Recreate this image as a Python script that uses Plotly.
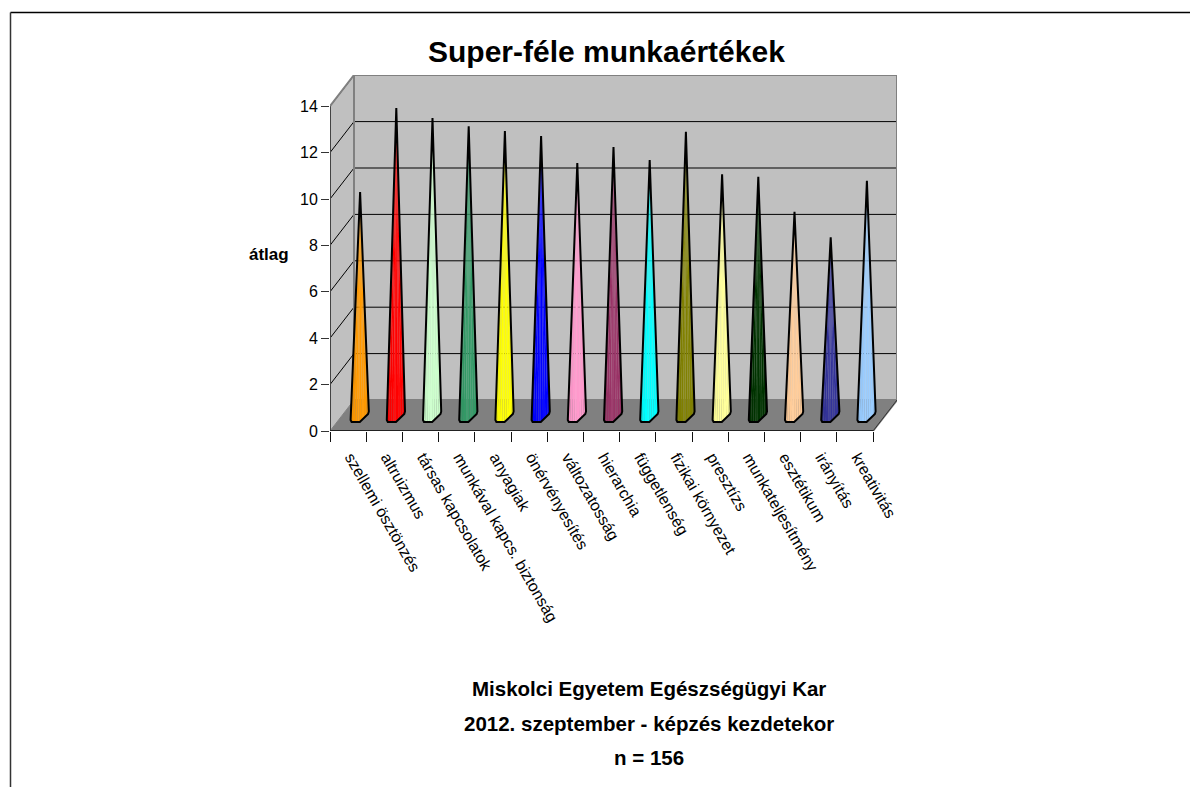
import numpy as np
import plotly.graph_objects as go

categories = ["szellemi ösztönzés", "altruizmus", "társas kapcsolatok", "munkával kapcs. biztonság",
              "anyagiak", "önérvényesítés", "változatosság", "hierarchia", "függetlenség",
              "fizikai környezet", "presztízs", "munkateljesítmény", "esztétikum", "irányítás", "kreativitás"]
values = [9.63, 13.25, 12.82, 12.47, 12.26, 12.05, 10.88, 11.57, 11.01, 12.23, 10.4, 10.29, 8.78, 7.68, 10.12]
colors = ["#FF9900", "#FF0000", "#CCFFCC", "#339966", "#FFFF00", "#0000FF", "#FF99CC", "#993366",
          "#00FFFF", "#808000", "#FFFF99", "#003300", "#FFCC99", "#333399", "#99CCFF"]
y_ticks = [0, 2, 4, 6, 8, 10, 12, 14]
title_text = "Super-féle munkaértékek"
y_title = "átlag"
footer_lines = ["Miskolci Egyetem Egészségügyi Kar", "2012. szeptember - képzés kezdetekor", "n = 156"]

# page geometry (the page has an 8px body margin)
OX, OY = 8, 8
W, H = 1190, 779
L, R, T, B = 330, 897, 75, 431
PX_X = (873 - 330) / 15
PX_Y = 23.2
DX = (R - 873) / PX_X          # depth of the floor, in axis units
DY = (B - 400) / PX_Y
X_MAX = (R - L) / PX_X
Y_MAX = (B - T) / PX_Y
LABEL_SHIFT = 3 / PX_X
FONT = "Liberation Sans, Arial, sans-serif"

def px(x):
    return (x - L) / (R - L)

def py(y):
    return (B - y) / (B - T)

def shade(hex_color, k):
    rgb = np.array([int(hex_color[i:i + 2], 16) for i in (1, 3, 5)], float)
    out = rgb * (1 + k) if k < 0 else rgb + (255 - rgb) * k
    return "rgb(%d,%d,%d)" % tuple(np.clip(out, 0, 255))

fig = go.Figure()

def poly(xs, ys, fill, line=None, width=1):
    fig.add_trace(go.Scatter(x=xs, y=ys, mode="lines", fill="toself", fillcolor=fill,
                             line=dict(color=line or "rgba(0,0,0,0)", width=width if line else 0),
                             hoverinfo="skip", showlegend=False))

def seg(xs, ys, color, width):
    fig.add_trace(go.Scatter(x=xs, y=ys, mode="lines", line=dict(color=color, width=width),
                             hoverinfo="skip", showlegend=False))

top_v = max(y_ticks)
# walls and floor
poly([DX, 15 + DX, 15 + DX, DX, DX], [DY, DY, Y_MAX, Y_MAX, DY], "#C0C0C0")
poly([0, DX, DX, 0, 0], [0, DY, Y_MAX, top_v, 0], "#C0C0C0")
poly([0, 15, 15 + DX, DX, 0], [0, 0, DY, DY, 0], "#808080")
# gridlines
for v in y_ticks[1:]:
    seg([0, DX, 15 + DX], [v, v + DY, v + DY], "#000000", 1)
# wall outlines
seg([0, DX, 15 + DX, 15 + DX, 15], [top_v, Y_MAX, Y_MAX, DY, 0], "#808080", 2)
seg([DX, DX, 15 + DX], [Y_MAX, DY, DY], "#808080", 2)
seg([DX, 0], [DY, 0], "#808080", 1)
seg([15 + DX, 15], [DY, 0], "#333333", 1)
# cones
profile_x = np.array([-9.5, -8.5, -0.3, 8.0, 8.7])
profile_y = np.array([-4.5, -6.5, -6.5, 1.5, 4.0])
strip_k = [-0.05, -0.02, 0.0, 0.06, 0.0, 0.04, 0.0, -0.02]
edges = np.linspace(profile_x[0], profile_x[-1], len(strip_k) + 1)
for i, (v, c) in enumerate(zip(values, colors)):
    xc = i + 0.5 + DX / 2
    yb = DY / 2
    apex = yb + v
    for j, k in enumerate(strip_k):
        a, b = edges[j], edges[j + 1]
        inner = profile_x[(profile_x > a) & (profile_x < b)]
        xs_b = np.concatenate(([a], inner, [b]))
        ys_b = np.interp(xs_b, profile_x, profile_y)
        poly(np.concatenate(([xc], xc + xs_b / PX_X, [xc])),
             np.concatenate(([apex], yb + ys_b / PX_Y, [apex])), shade(c, k))
    seg(np.concatenate(([xc], xc + profile_x / PX_X, [xc])),
        np.concatenate(([apex], yb + profile_y / PX_Y, [apex])), "#000000", 2)
# front axis lines
seg([0, 0], [0, top_v], "#444444", 2)
seg([0, 15], [0, 0], "#222222", 2)

fig.update_layout(
    width=W, height=H, autosize=False, showlegend=False,
    margin=dict(l=L - OX, r=W - (R - OX), t=T - OY, b=H - (B - OY), pad=0),
    paper_bgcolor="#FFFFFF", plot_bgcolor="rgba(0,0,0,0)",
    font=dict(family=FONT, color="#000000", size=16),
    xaxis=dict(range=[0, X_MAX], tickmode="array", tickvals=list(range(16)), ticktext=[""] * 16,
               ticks="outside", ticklen=10, tickwidth=1, tickcolor="#111111",
               showgrid=False, zeroline=False, showline=False),
    xaxis2=dict(range=[0, X_MAX], overlaying="x", side="bottom", anchor="y", tickmode="array",
                tickvals=[i + 0.5 + LABEL_SHIFT for i in range(15)], ticktext=categories, tickangle=60,
                ticks="", ticklabelstandoff=13, tickfont=dict(size=16, family=FONT),
                showgrid=False, zeroline=False, showline=False),
    yaxis=dict(range=[0, Y_MAX], tickmode="array", tickvals=y_ticks,
               ticks="outside", ticklen=8, tickwidth=1, tickcolor="#333333",
               tickfont=dict(size=16, family=FONT), showgrid=False, zeroline=False, showline=False),
    shapes=[
        dict(type="line", xref="paper", yref="paper", x0=px(10.5), x1=px(1198), y0=py(12.5), y1=py(12.5),
             line=dict(color="#000000", width=1.5)),
        dict(type="line", xref="paper", yref="paper", x0=px(10.5), x1=px(10.5), y0=py(12.5), y1=py(787),
             line=dict(color="#333333", width=1.5)),
    ],
)
# dummy trace so the label axis is drawn
fig.add_trace(go.Scatter(x=[0], y=[0], xaxis="x2", yaxis="y", mode="none", hoverinfo="skip", showlegend=False))

def text(s, x, y, size):
    fig.add_annotation(text="<b>%s</b>" % s, x=px(x), y=py(y), xref="paper", yref="paper", showarrow=False,
                       xanchor="center", yanchor="middle", font=dict(family=FONT, size=size, color="#000000"))

text(title_text, 606.5, 52, 30)
text(y_title, 269, 254, 17)
for s, yy in zip(footer_lines, [688, 723, 757]):
    text(s, 649, yy, 20.5)

fig.write_html("out.html")
